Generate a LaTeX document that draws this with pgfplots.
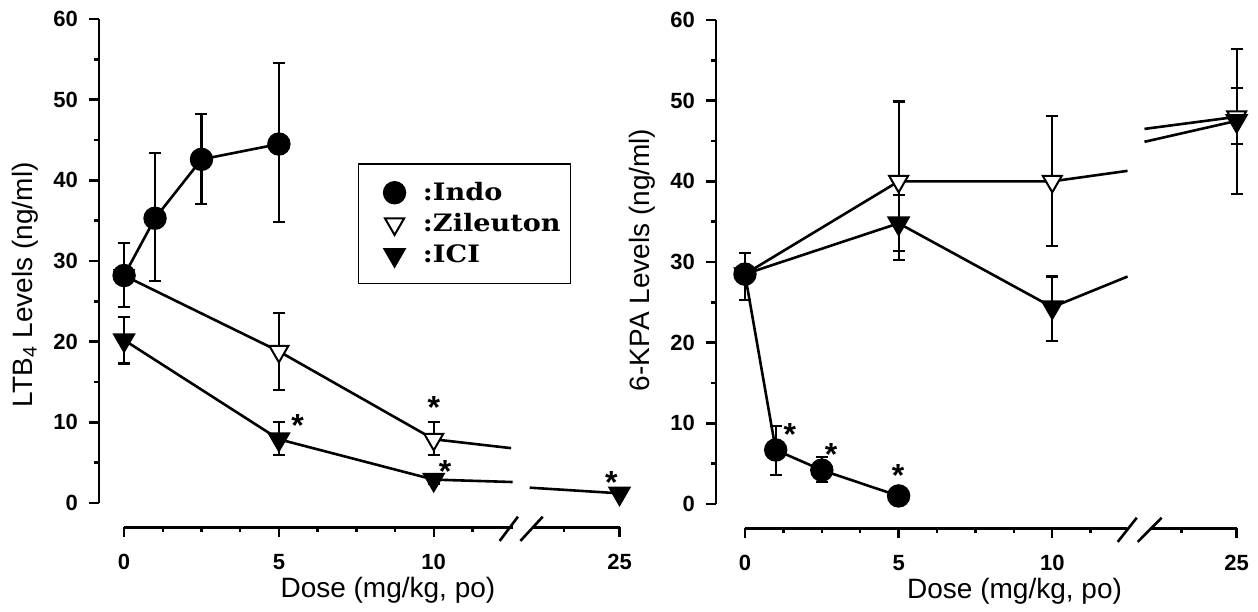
\documentclass[border=0pt]{standalone}
\usepackage{fontspec}
\setmainfont{Liberation Sans}
\newfontfamily\legfont[FakeStretch=1.13]{DejaVu Serif}
\usepackage{pgfplots}
\pgfplotsset{compat=1.18}
\pgfplotsset{
  panel/.style={
    scale only axis, width=268pt, height=254.1pt,
    ymin=-3, ymax=60, xmax=16.5,
    axis x line*=bottom, axis y line*=left,
    x axis line style={draw=none}, y axis line style={draw=none},
    tick align=outside,
    xtick={0,5,10,16}, xticklabels={0,5,10,25},
    minor xtick={1.25,2.5,3.75,6.25,7.5,8.75,11.25,14.2},
    ytick={0,10,20,30,40,50,60}, minor ytick={5,15,25,35,45,55},
    major tick length=5pt, minor tick length=2.5pt,
    every tick/.append style={black, line width=1.2pt},
    tick label style={font=\bfseries\fontsize{11}{13}\selectfont},
    /pgf/number format/assume math mode=true,
    xticklabel style={yshift=-5pt},
    yticklabel style={xshift=-2pt},
    clip=false,
    every axis plot/.append style={line width=1.3pt, black},
    every axis y label/.style={rotate=90, anchor=center, font=\fontsize{14}{16}\selectfont},
    every axis x label/.style={anchor=center, font=\fontsize{14}{16}\selectfont},
  },
  indo/.style={mark=*, mark size=5.2pt, mark options={solid, fill=black}},
  zil/.style={mark=triangle*, mark size=5.5pt, mark options={solid, fill=white, rotate=180, line width=1pt}},
  ici/.style={mark=triangle*, mark size=5.5pt, mark options={solid, fill=black, rotate=180}},
  eb/.style={/pgfplots/error bars/y dir=both, /pgfplots/error bars/y explicit,
    /pgfplots/error bars/error bar style={line width=1.1pt},
    /pgfplots/error bars/error mark options={rotate=90, mark size=3pt, line width=1.1pt}},
  seg/.style={no marks, forget plot},
}
\begin{document}
\begin{tikzpicture}
\useasboundingbox (0,0) rectangle (629pt,305.5pt);
% ---------------- left panel ----------------
\begin{axis}[panel, at={(49.5pt,41.9pt)}, anchor=south west, xmin=-0.81,
  ylabel={LTB\textsubscript{4} Levels (ng/ml)},
  ylabel style={at={(rel axis cs:0,0.477)}, yshift=37pt},
  xlabel={Dose (mg/kg, po)},
  xlabel style={at={(rel axis cs:0.539,0)}, yshift=-31.4pt},
  reverse legend,
  legend style={at={(axis cs:7.55,42.1)}, anchor=north west, draw=black, line width=0.7pt,
    inner xsep=3pt, inner ysep=7pt, row sep=1pt, nodes={inner sep=2pt},
    font=\legfont\bfseries\fontsize{12}{14}\selectfont, cells={anchor=west},
    /tikz/every odd column/.append style={column sep=7pt}},
  legend image code/.code={\path[draw=none] (0pt,0pt) -- (20pt,0pt); \draw[#1, only marks] plot coordinates {(15pt,0pt)};},
]
\addplot[ici, eb] coordinates {(0,20.2) += (0,2.9) -= (0,2.9) (5,7.9) += (0,2.1) -= (0,1.9) (10,2.9) += (0,0.5) -= (0,0.5)};
\addlegendentry{:ICI}
\addplot[zil, eb] coordinates {(0,28.2) (5,18.8) += (0,4.8) -= (0,4.8) (10,7.9) += (0,2.1) -= (0,1.9)};
\addlegendentry{:Zileuton}
\addplot[indo, eb] coordinates {(0,28.2) += (0,4.0) -= (0,3.9) (1,35.3) += (0,8.1) -= (0,7.8) (2.5,42.6) += (0,5.6) -= (0,5.5) (5,44.5) += (0,10.0) -= (0,9.7)};
\addlegendentry{:Indo}
\addplot[seg] coordinates {(10,7.9) (12.5,6.8)};
\addplot[seg] coordinates {(10,2.9) (12.55,2.6)};
\addplot[seg] coordinates {(13.1,1.9) (16,1.2)};
\addplot[ici, only marks, forget plot] coordinates {(16,1.2)};
% axes lines
\draw[line width=1.3pt] (axis cs:-0.81,0) -- (axis cs:-0.81,60);
\draw[line width=1.3pt] (axis cs:0,-3) -- (axis cs:12.55,-3);
\draw[line width=1.3pt] (axis cs:13.2,-3) -- (axis cs:16,-3);
\draw[line width=1.3pt] (axis cs:12.13,-4.7) -- (axis cs:12.72,-1.7);
\draw[line width=1.3pt] (axis cs:12.8,-4.7) -- (axis cs:13.52,-1.7);
% significance marks
\begin{scope}[every node/.style={anchor=north, inner sep=0pt, font=\bfseries\fontsize{16}{16}\selectfont}]
\node at (axis cs:5.6,11.0) {*};
\node at (axis cs:10,13.3) {*};
\node at (axis cs:10.37,5.3) {*};
\node at (axis cs:15.74,4.0) {*};
\end{scope}
\end{axis}
% ---------------- right panel ----------------
\begin{axis}[panel, at={(358pt,41.4pt)}, anchor=south west, xmin=-0.943,
  ylabel={6-KPA Levels (ng/ml)},
  ylabel style={at={(rel axis cs:0,0.528)}, yshift=37pt},
  xlabel={Dose (mg/kg, po)},
  xlabel style={at={(rel axis cs:0.557,0)}, yshift=-31.4pt},
]
\addplot[ici, eb] coordinates {(0,28.5) (5,34.8) += (0,3.5) -= (0,3.4) (10,24.4) += (0,3.8) -= (0,4.2)};
\addplot[zil, eb] coordinates {(0,28.5) (5,40) += (0,9.9) -= (0,9.8) (10,40) += (0,8.1) -= (0,8.0)};
\addplot[indo, eb] coordinates {(0,28.5) += (0,2.6) -= (0,3.2) (1,6.7) += (0,3.0) -= (0,3.1) (2.5,4.2) += (0,1.6) -= (0,1.5) (5,1.0)};
\addplot[seg] coordinates {(10,40) (12.45,41.3)};
\addplot[seg] coordinates {(10,24.4) (12.45,28.2)};
\addplot[seg] coordinates {(13.0,46.5) (16,48)};
\addplot[seg] coordinates {(13.0,44.9) (16,47.5)};
\addplot[zil, eb, only marks, forget plot] coordinates {(16,48) += (0,8.4) -= (0,9.6)};
\addplot[ici, eb, only marks, forget plot] coordinates {(16,47.5) += (0,4.1) -= (0,2.9)};
\draw[line width=1.3pt] (axis cs:-0.943,0) -- (axis cs:-0.943,60);
\draw[line width=1.3pt] (axis cs:0,-3) -- (axis cs:12.42,-3);
\draw[line width=1.3pt] (axis cs:13.17,-3) -- (axis cs:16,-3);
\draw[line width=1.3pt] (axis cs:12.13,-4.7) -- (axis cs:12.75,-1.7);
\draw[line width=1.3pt] (axis cs:12.78,-4.7) -- (axis cs:13.56,-1.7);
\begin{scope}[every node/.style={anchor=north, inner sep=0pt, font=\bfseries\fontsize{16}{16}\selectfont}]
\node at (axis cs:1.46,10.0) {*};
\node at (axis cs:2.8,7.5) {*};
\node at (axis cs:4.98,4.9) {*};
\end{scope}
\end{axis}
\end{tikzpicture}
\end{document}
